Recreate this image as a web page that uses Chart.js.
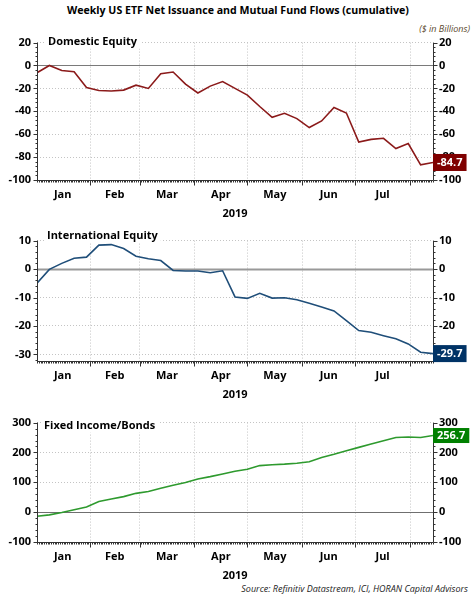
<!DOCTYPE html>
<html>
<head>
<meta charset="utf-8">
<script src="https://cdn.jsdelivr.net/npm/chart.js@4.4.1/dist/chart.umd.min.js"></script>
<style>
  body { margin: 0; background: #fff; width: 476px; height: 596px; position: relative; overflow: hidden; font-family: "Open Sans", sans-serif; }
  .title { position: absolute; left: 0; top: 3px; width: 476px; text-align: center; font-weight: bold; font-size: 10.6px; color: #000; }
  .unit { position: absolute; right: 6px; top: 22px; font-style: italic; font-size: 9px; color: #5b4a2e; }
  .src { position: absolute; right: 8px; top: 582px; font-style: italic; font-size: 9px; color: #222; }
  canvas { position: absolute; left: 0; }
</style>
</head>
<body>
<div class="title">Weekly US ETF Net Issuance and Mutual Fund Flows (cumulative)</div>
<div class="unit">($ in Billions)</div>
<canvas id="dom" width="476" height="190" style="top:30px"></canvas>
<canvas id="intl" width="476" height="173" style="top:228px"></canvas>
<canvas id="bond" width="476" height="172" style="top:410px"></canvas>
<div class="src">Source: Refinitiv Datastream, ICI, HORAN Capital Advisors</div>
<script>
// weekly dates (Wednesdays)
const weeks = [
  '2019-01-02', '2019-01-09', '2019-01-16', '2019-01-23', '2019-01-30',
  '2019-02-06', '2019-02-13', '2019-02-20', '2019-02-27',
  '2019-03-06', '2019-03-13', '2019-03-20', '2019-03-27',
  '2019-04-03', '2019-04-10', '2019-04-17', '2019-04-24',
  '2019-05-01', '2019-05-08', '2019-05-15', '2019-05-22', '2019-05-29',
  '2019-06-05', '2019-06-12', '2019-06-19', '2019-06-26',
  '2019-07-03', '2019-07-10', '2019-07-17', '2019-07-24', '2019-07-31',
  '2019-08-07', '2019-08-14'
];
const months = ['Jan', 'Feb', 'Mar', 'Apr', 'May', 'Jun', 'Jul'];
const monthStarts = ['2019-01-01', '2019-02-01', '2019-03-01', '2019-04-01', '2019-05-01', '2019-06-01', '2019-07-01', '2019-08-01', '2019-09-01'];

const domestic = [-6.3, 0, -4.3, -5.4, -19.2, -21.8, -22.3, -21.5, -17.2, -20, -7.2, -5.7, -16.3, -24, -18, -14,
  -20, -25.8, -35.8, -45.3, -41.8, -46.4, -54.2, -48.4, -36.7, -41.5, -66.8, -64.5, -63.6, -72.5, -68.2, -86.8, -84.7];
const international = [-5.0, -0.1, 2.0, 3.8, 4.2, 8.4, 8.6, 7.2, 4.5, 3.6, 3.0, -0.5, -0.7, -0.7, -1.3, -0.6,
  -9.8, -10.3, -8.5, -10.2, -10.1, -10.8, -12.0, -13.3, -14.7, -18.1, -21.6, -22.2, -23.4, -24.5, -26.3, -29.2, -29.7];
const bonds = [-14, -9, -1, 8, 17, 36, 44, 52, 63, 69, 80, 90, 99, 111, 119, 128,
  137, 144, 156, 159, 161, 164, 169, 183, 194, 206, 217, 228, 239, 250, 252, 250, 256.7];

const domTicks = [-100, -80, -60, -40, -20, 0, 20];
const intlTicks = [-30, -20, -10, 0, 10];
const bondTicks = [-100, 0, 100, 200, 300];

const FONT = '"Open Sans", sans-serif';
const dayOf = s => (Date.parse(s + 'T00:00:00Z') - Date.parse('2019-01-01T00:00:00Z')) / 864e5;
const xs = weeks.map(dayOf);
const starts = monthStarts.map(dayOf);
const bounds = starts.slice(1, 8);
const mids = months.map((m, i) => (starts[i] + starts[i + 1]) / 2);

const deco = {
  id: 'deco',
  beforeDatasetsDraw(chart, args, o) {
    const { ctx, chartArea: a, scales } = chart;
    const y0 = scales.y.getPixelForValue(0);
    ctx.save();
    ctx.strokeStyle = o.zeroColor;
    ctx.lineWidth = o.zeroWidth;
    ctx.beginPath();
    ctx.moveTo(a.left, Math.round(y0) + 0.5);
    ctx.lineTo(a.right, Math.round(y0) + 0.5);
    ctx.stroke();
    ctx.restore();
  },
  afterDraw(chart, args, o) {
    const { ctx, chartArea: a, scales } = chart;
    const ys = scales.y, xsc = scales.x;
    ctx.save();
    ctx.strokeStyle = '#333';
    ctx.lineWidth = 1;
    const L = Math.round(a.left) + 0.5, R = Math.round(a.right) + 0.5, B = Math.round(a.bottom) + 0.5;
    ctx.beginPath();
    ctx.moveTo(L, a.top); ctx.lineTo(L, B);
    ctx.moveTo(R, a.top); ctx.lineTo(R, B);
    ctx.moveTo(a.left, B); ctx.lineTo(a.right, B);
    // y ticks, 5 minor steps per major step
    const step = o.ticks[1] - o.ticks[0];
    const minor = step / 5;
    const first = Math.ceil(ys.min / minor) * minor;
    for (let v = first; v <= ys.max + 1e-9; v += minor) {
      const p = Math.round(ys.getPixelForValue(v)) + 0.5;
      const major = Math.abs(v / step - Math.round(v / step)) < 1e-6;
      const len = major ? 4 : 2;
      ctx.moveTo(L - len, p); ctx.lineTo(L, p);
      ctx.moveTo(R, p); ctx.lineTo(R + len, p);
    }
    // x ticks (daily, longer at month starts)
    for (let d = Math.ceil(xsc.min); d <= xsc.max; d++) {
      const p = Math.round(xsc.getPixelForValue(d)) + 0.5;
      const len = bounds.includes(d) ? 5 : 2;
      ctx.moveTo(p, B); ctx.lineTo(p, B + len);
    }
    ctx.stroke();

    // panel title
    ctx.font = 'bold 11px ' + FONT;
    ctx.textBaseline = 'middle';
    ctx.textAlign = 'left';
    const tw = ctx.measureText(o.title).width;
    const ty = a.top + o.titleDy;
    ctx.fillStyle = '#fff';
    ctx.fillRect(o.titleX - 3, ty - 7, tw + 6, 14);
    ctx.fillStyle = '#000';
    ctx.fillText(o.title, o.titleX, ty);

    // last value box
    const data = chart.data.datasets[0].data;
    const last = data[data.length - 1].y;
    const py = ys.getPixelForValue(last);
    const txt = last.toFixed(1);
    const bw = ctx.measureText(txt).width + 8;
    ctx.fillStyle = o.boxColor;
    ctx.fillRect(a.right, py - o.boxH / 2, bw, o.boxH);
    ctx.fillStyle = '#fff';
    ctx.fillText(txt, a.right + 4, py + 0.5);
    ctx.restore();
  }
};

function makeChart(id, values, ticks, min, max, color, opts) {
  const yBase = {
    min: min, max: max,
    afterBuildTicks: s => { s.ticks = ticks.map(v => ({ value: v })); },
    ticks: { padding: 6, color: '#000', font: { family: FONT, size: 11, weight: 'bold' } },
    border: { display: false, dash: [1, 2] }
  };
  return new Chart(document.getElementById(id), {
    type: 'line',
    data: {
      datasets: [{
        data: xs.map((x, i) => ({ x: x, y: values[i] })),
        borderColor: color,
        borderWidth: 1.6,
        pointRadius: 0,
        tension: 0
      }]
    },
    options: {
      responsive: false,
      animation: false,
      devicePixelRatio: 1,
      layout: { padding: { top: opts.padTop, left: 0, right: 0, bottom: 0 } },
      plugins: {
        legend: { display: false },
        tooltip: { enabled: false },
        deco: Object.assign({ ticks: ticks }, opts)
      },
      scales: {
        x: {
          type: 'linear',
          min: xs[0], max: xs[xs.length - 1],
          afterBuildTicks: s => {
            s.ticks = bounds.concat(mids).sort((a, b) => a - b).map(v => ({ value: v }));
          },
          ticks: {
            autoSkip: false, maxRotation: 0, padding: 8, color: '#000',
            font: { family: FONT, size: 11, weight: 'bold' },
            callback: v => { const i = mids.indexOf(v); return i >= 0 ? months[i] : ''; }
          },
          grid: {
            drawTicks: false,
            color: c => (c.tick && bounds.includes(c.tick.value)) ? '#c4c4c4' : 'rgba(0,0,0,0)'
          },
          border: { display: false, dash: [1, 2] },
          title: {
            display: true, text: '2019', color: '#000',
            font: { family: FONT, size: 11, weight: 'bold' },
            padding: { top: 2, bottom: 0 }
          },
          afterFit: s => { s.height = 40; }
        },
        y: Object.assign({}, yBase, {
          position: 'left',
          grid: { drawTicks: false, color: '#c4c4c4' },
          afterFit: s => { s.width = 37; }
        }),
        y2: Object.assign({}, yBase, {
          position: 'right',
          grid: { drawTicks: false, drawOnChartArea: false },
          border: { display: false },
          afterFit: s => { s.width = 43; }
        })
      }
    },
    plugins: [deco]
  });
}

makeChart('dom', domestic, domTicks, -100, 20, '#8b1a1a',
  { padTop: 11, title: 'Domestic Equity', titleX: 48, titleDy: -1, boxColor: '#7f0000', boxH: 17, zeroColor: '#7a7a7a', zeroWidth: 1 });
makeChart('intl', international, intlTicks, -32.3, 10, '#1f4e79',
  { padTop: 12, title: 'International Equity', titleX: 47, titleDy: -5, boxColor: '#003366', boxH: 17, zeroColor: '#999', zeroWidth: 2 });
makeChart('bond', bonds, bondTicks, -100, 300, '#2e9a2e',
  { padTop: 12, title: 'Fixed Income/Bonds', titleX: 44, titleDy: 3, boxColor: '#008000', boxH: 15, zeroColor: '#6f6f6f', zeroWidth: 1 });
</script>
</body>
</html>
